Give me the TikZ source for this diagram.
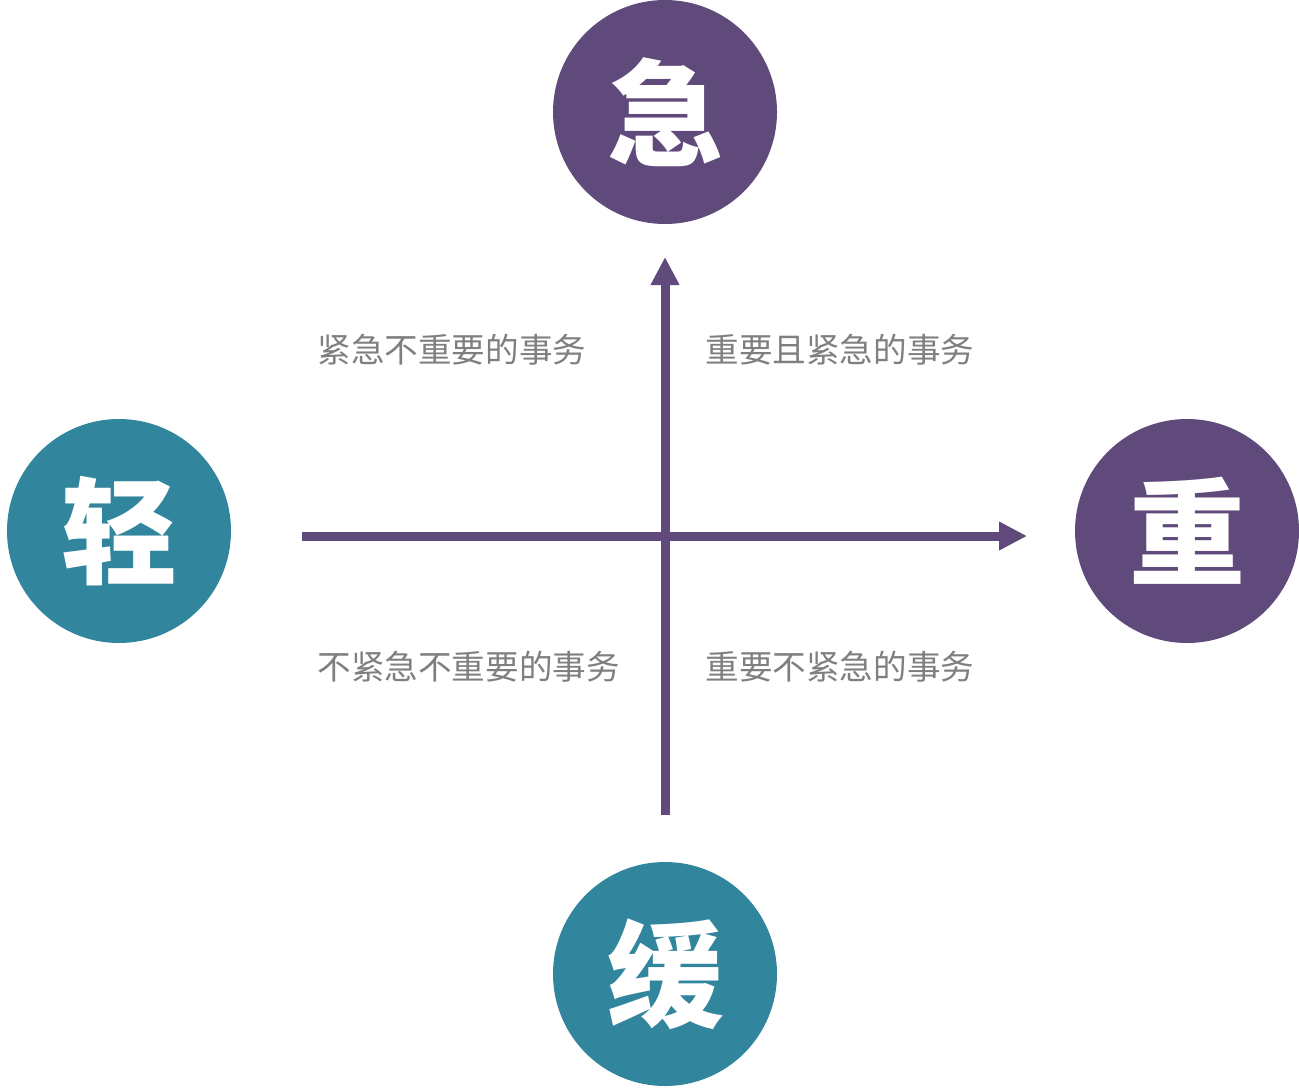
\documentclass[tikz,border=0pt]{standalone}
\usetikzlibrary{arrows.meta}
\usepackage{fontspec}
\newfontfamily\cjk{Noto Sans CJK SC}
\definecolor{axispurple}{HTML}{604A7B}
\definecolor{circteal}{HTML}{31859C}
\definecolor{labelgray}{HTML}{7F7F7F}

\begin{document}
\begin{tikzpicture}[x=0.5pt,y=-0.5pt,>={Triangle[width=13.5pt,length=14pt]},
  pole/.style={circle,minimum size=112pt,inner sep=0pt,text=white,
    font=\cjk\bfseries\fontsize{58}{58}\selectfont},
  quad/.style={anchor=west,inner sep=0pt,text=labelgray,
    font=\cjk\fontsize{16.8}{16.8}\selectfont}]
  \useasboundingbox (0,0) rectangle (1299,1087);
  % the four poles
  \node[pole,fill=axispurple] (urgent) at (665,112) {急};
  \node[pole,fill=axispurple] (heavy) at (1187,531) {重};
  \node[pole,fill=circteal] (light) at (119,531) {轻};
  \node[pole,fill=circteal] (slow) at (665,974) {缓};
  % axes
  \coordinate (xstart) at (302,536);
  \coordinate (xend) at (1027,536);
  \coordinate (ystart) at (665,815);
  \coordinate (yend) at (665,257);
  \draw[->,axispurple,line width=4.5pt] (xstart) -- (xend);
  \draw[->,axispurple,line width=4.5pt] (ystart) -- (yend);
  % quadrant labels
  \node[quad] (q2) at (317,350) {紧急不重要的事务};
  \node[quad] (q1) at (705,350) {重要且紧急的事务};
  \node[quad] (q3) at (317,667) {不紧急不重要的事务};
  \node[quad] (q4) at (705,667) {重要不紧急的事务};
\end{tikzpicture}
\end{document}
